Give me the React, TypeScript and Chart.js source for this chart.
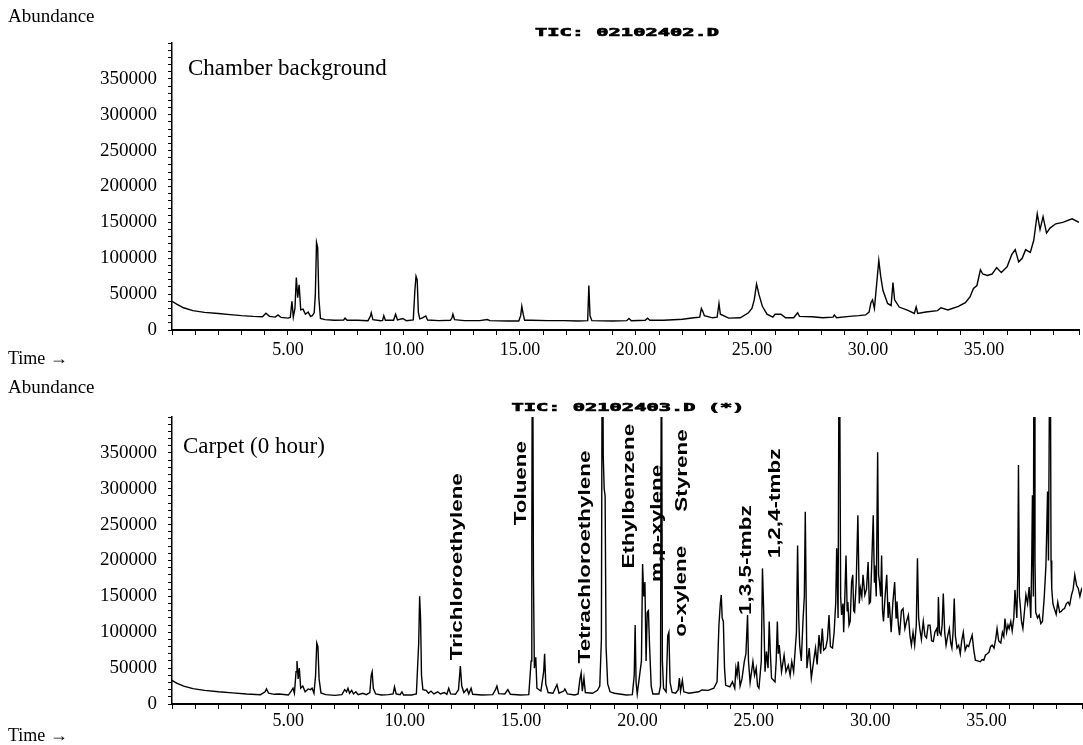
import React, { useEffect, useRef } from "react";
import { Chart, registerables } from "chart.js";

Chart.register(...registerables);

// ---------- data: chamber background (TIC 02102402.D) ----------
const bgTime = [
  0.0, 0.2, 0.5, 0.9, 1.4, 2.0, 2.5, 3.0, 3.5, 3.9, 4.05, 4.2, 4.45, 4.57, 4.7, 5.0, 5.1, 5.17, 5.23, 5.3,
  5.36, 5.42, 5.48, 5.55, 5.65, 5.75, 5.87, 5.97, 6.05, 6.13, 6.18, 6.23, 6.28, 6.33, 6.4, 6.6, 7.0, 7.4, 7.46, 7.55,
  8.0, 8.45, 8.55, 8.59, 8.66, 9.0, 9.08, 9.13, 9.2, 9.55, 9.64, 9.72, 9.95, 10.1, 10.4, 10.47, 10.52, 10.57, 10.62, 10.68,
  10.8, 10.94, 11.02, 11.5, 12.0, 12.07, 12.11, 12.18, 12.6, 13.26, 13.6, 13.7, 14.5, 14.95, 15.03, 15.08, 15.14, 15.2, 15.5, 16.2,
  16.9, 17.5, 17.92, 17.97, 18.02, 18.1, 19.0, 19.6, 19.7, 19.8, 20.4, 20.5, 20.6, 21.2, 22.0, 22.5, 22.75, 22.82, 22.88, 22.95,
  23.3, 23.5, 23.58, 23.64, 24.0, 24.5, 24.85, 25.0, 25.1, 25.2, 25.3, 25.45, 25.65, 25.9, 26.0, 26.25, 26.45, 26.8, 26.97, 27.05,
  27.6, 28.05, 28.5, 28.55, 28.65, 29.2, 29.6, 29.9, 30.05, 30.13, 30.2, 30.28, 30.38, 30.47, 30.55, 30.65, 30.85, 31.0, 31.08, 31.15,
  31.35, 31.75, 32.0, 32.08, 32.15, 32.5, 33.0, 33.15, 33.45, 33.9, 34.2, 34.4, 34.55, 34.7, 34.85, 34.95, 35.15, 35.35, 35.55, 35.75,
  36.0, 36.2, 36.35, 36.5, 36.65, 36.8, 37.0, 37.15, 37.3, 37.42, 37.55, 37.7, 37.85, 38.1, 38.4, 38.8, 39.1,
];
const bgAbund = [
  40000, 36000, 31000, 27000, 24500, 23000, 21500, 20000, 19000, 18500, 23500, 19000, 18000, 21000, 17500, 16500, 17500, 40000, 18000, 30000,
  73000, 45000, 63000, 28000, 29000, 22000, 25000, 19000, 20000, 24000, 50000, 122000, 115000, 45000, 16000, 14500, 13500, 14000, 16500, 13500,
  13500, 13000, 19000, 24000, 14500, 13000, 13500, 20000, 13500, 13500, 22000, 14000, 16000, 13000, 14000, 55000, 75000, 70000, 25000, 15500,
  17000, 19500, 14000, 13000, 13500, 17000, 22000, 14500, 13000, 13000, 14500, 13000, 12500, 12500, 20000, 33000, 22000, 13500, 13500, 13000,
  13000, 12500, 13000, 62000, 20000, 13000, 12500, 13000, 16000, 13000, 13500, 16500, 13500, 13500, 15000, 17000, 18000, 30000, 26000, 20000,
  17000, 18000, 37000, 22000, 16500, 17000, 24000, 30000, 42000, 64000, 50000, 33000, 22000, 18000, 22000, 22000, 17000, 17000, 24000, 19000,
  18500, 17000, 18000, 21000, 17000, 19000, 20000, 21000, 25000, 38000, 42000, 30000, 65000, 97000, 75000, 55000, 37000, 34000, 66000, 42000,
  32000, 27000, 23000, 32000, 23000, 25000, 27000, 31000, 28000, 33000, 38000, 46000, 58000, 62000, 84000, 78000, 76000, 78000, 87000, 80000,
  88000, 105000, 112000, 95000, 100000, 112000, 108000, 125000, 162000, 140000, 158000, 135000, 142000, 148000, 150000, 155000, 150000,
];

// ---------- data: carpet, 0 hour (TIC 02102403.D) ----------
const cpTime = [
  0.0, 0.2, 0.5, 0.9, 1.4, 2.0, 2.6, 3.2, 3.8, 4.0, 4.06, 4.15, 4.4, 4.6, 5.0, 5.12, 5.2, 5.26, 5.33, 5.37,
  5.42, 5.47, 5.53, 5.62, 5.72, 5.85, 5.95, 6.02, 6.1, 6.17, 6.22, 6.27, 6.32, 6.4, 6.6, 7.0, 7.3, 7.42, 7.5, 7.56,
  7.63, 7.72, 7.8, 7.9, 8.0, 8.2, 8.35, 8.5, 8.56, 8.6, 8.65, 8.75, 9.0, 9.3, 9.5, 9.56, 9.63, 9.8, 9.88, 9.95,
  10.3, 10.5, 10.6, 10.64, 10.68, 10.72, 10.78, 10.92, 11.02, 11.13, 11.25, 11.42, 11.53, 11.7, 11.81, 11.89, 11.97, 12.18, 12.31, 12.39,
  12.45, 12.54, 12.68, 12.75, 12.85, 12.92, 13.32, 13.78, 13.9, 13.96, 14.04, 14.3, 14.43, 14.54, 14.97, 15.33, 15.43, 15.46, 15.49, 15.53,
  15.57, 15.63, 15.68, 15.85, 15.97, 16.01, 16.06, 16.16, 16.37, 16.47, 16.54, 16.63, 16.83, 16.88, 16.99, 17.3, 17.45, 17.53, 17.58, 17.63,
  17.7, 17.76, 18.07, 18.28, 18.38, 18.45, 18.49, 18.53, 18.57, 18.61, 18.65, 18.72, 18.82, 19.01, 19.52, 19.78, 19.86, 19.9, 19.94, 19.99,
  20.17, 20.22, 20.27, 20.32, 20.37, 20.42, 20.47, 20.52, 20.59, 20.66, 20.92, 20.99, 21.03, 21.07, 21.12, 21.23, 21.3, 21.35, 21.4, 21.49,
  21.64, 21.75, 21.8, 21.85, 21.93, 21.99, 22.21, 22.63, 22.77, 23.04, 23.28, 23.42, 23.5, 23.56, 23.6, 23.64, 23.69, 23.74, 23.79, 23.97,
  24.08, 24.18, 24.23, 24.28, 24.33, 24.41, 24.49, 24.59, 24.66, 24.73, 24.77, 24.84, 24.96, 25.03, 25.1, 25.16, 25.22, 25.32, 25.37, 25.42,
  25.48, 25.54, 25.61, 25.66, 25.71, 25.76, 25.91, 25.96, 26.01, 26.05, 26.09, 26.19, 26.3, 26.38, 26.48, 26.56, 26.63, 26.71, 26.83, 26.88,
  26.93, 26.97, 27.04, 27.11, 27.17, 27.21, 27.28, 27.38, 27.47, 27.57, 27.65, 27.72, 27.8, 27.87, 27.94, 28.0, 28.09, 28.16, 28.23, 28.29,
  28.38, 28.45, 28.52, 28.56, 28.62, 28.67, 28.73, 28.77, 28.83, 28.86, 28.91, 28.96, 29.01, 29.04, 29.09, 29.14, 29.2, 29.25, 29.29, 29.33,
  29.4, 29.47, 29.53, 29.58, 29.64, 29.69, 29.77, 29.84, 29.91, 29.96, 30.01, 30.07, 30.13, 30.18, 30.2, 30.26, 30.32, 30.36, 30.4, 30.45,
  30.49, 30.53, 30.57, 30.64, 30.71, 30.77, 30.82, 30.9, 30.97, 31.05, 31.11, 31.15, 31.21, 31.26, 31.34, 31.41, 31.49, 31.56, 31.64, 31.71,
  31.77, 31.84, 31.91, 31.98, 32.03, 32.08, 32.13, 32.2, 32.28, 32.35, 32.42, 32.49, 32.57, 32.64, 32.71, 32.78, 32.86, 32.9, 32.93, 32.98,
  33.04, 33.09, 33.14, 33.2, 33.26, 33.33, 33.4, 33.46, 33.51, 33.56, 33.61, 33.66, 33.73, 33.8, 33.87, 33.93, 34.0, 34.08, 34.16, 34.23,
  34.3, 34.38, 34.45, 34.52, 34.62, 34.73, 34.81, 34.88, 34.95, 35.03, 35.1, 35.17, 35.24, 35.32, 35.39, 35.45, 35.52, 35.61, 35.68, 35.74,
  35.79, 35.86, 35.92, 35.97, 36.04, 36.1, 36.17, 36.22, 36.3, 36.34, 36.37, 36.41, 36.44, 36.5, 36.56, 36.63, 36.69, 36.76, 36.83, 36.9,
  36.94, 36.97, 37.01, 37.04, 37.08, 37.11, 37.19, 37.26, 37.33, 37.4, 37.48, 37.55, 37.59, 37.62, 37.66, 37.73, 37.77, 37.8, 37.85, 37.91,
  37.99, 38.06, 38.14, 38.21, 38.28, 38.35, 38.43, 38.5, 38.57, 38.65, 38.72, 38.79, 38.87, 38.94, 39.01, 39.08, 39.14,
];
const cpAbund = [
  33000, 29000, 25000, 21500, 19000, 17000, 15500, 14000, 13000, 17000, 21000, 15000, 13500, 14000, 12500, 18000, 22000, 15000, 45000, 60000,
  35000, 50000, 22000, 25000, 17000, 21000, 20000, 22000, 15000, 40000, 85000, 80000, 35000, 15500, 13000, 12000, 13000, 20000, 17000, 22000,
  15000, 19000, 14000, 17000, 13000, 15000, 13000, 16000, 40000, 45000, 22000, 14000, 12500, 13000, 14000, 24000, 14000, 13000, 17000, 12500,
  12500, 14000, 85000, 150000, 120000, 40000, 20000, 19000, 15000, 18000, 14000, 17000, 14000, 16000, 13500, 22000, 14000, 13500, 20000, 53000,
  25000, 16000, 21000, 14000, 22000, 13500, 12500, 13000, 20000, 25000, 14500, 14000, 20000, 13500, 12500, 13000, 60000, 230000, 600000, 180000,
  50000, 65000, 22000, 18000, 45000, 70000, 28000, 16000, 15000, 22000, 27000, 15000, 18000, 21000, 14000, 12500, 14000, 35000, 43000, 18000,
  36000, 16000, 15000, 19000, 25000, 90000, 600000, 345000, 300000, 290000, 80000, 28000, 17000, 15000, 12500, 13000, 40000, 110000, 30000, 14000,
  60000, 195000, 150000, 170000, 60000, 128000, 130000, 80000, 25000, 14000, 14000, 25000, 600000, 60000, 22000, 17000, 95000, 100000, 30000, 16000,
  15000, 20000, 36000, 18000, 33000, 17000, 15000, 17000, 19500, 19000, 22000, 31000, 110000, 140000, 152000, 120000, 115000, 50000, 26000, 24000,
  31000, 22000, 50000, 40000, 59000, 25000, 35000, 59000, 70000, 124000, 60000, 30000, 59000, 40000, 50000, 25000, 22000, 60000, 189000, 133000,
  45000, 73000, 50000, 115000, 70000, 36000, 31000, 60000, 115000, 70000, 82000, 45000, 68000, 45000, 54000, 40000, 59000, 45000, 100000, 221000,
  120000, 82000, 60000, 115000, 150000, 268000, 50000, 78000, 36000, 60000, 78000, 55000, 96000, 70000, 105000, 75000, 78000, 90000, 124000, 80000,
  78000, 100000, 142000, 217000, 120000, 600000, 150000, 124000, 140000, 100000, 150000, 207000, 130000, 142000, 110000, 115000, 170000, 180000, 130000, 128000,
  170000, 263000, 140000, 161000, 150000, 180000, 152000, 160000, 198000, 140000, 142000, 200000, 263000, 170000, 193000, 150000, 351000, 180000, 170000, 150000,
  207000, 130000, 115000, 150000, 180000, 120000, 142000, 100000, 140000, 170000, 120000, 143000, 110000, 96000, 130000, 133000, 105000, 115000, 124000, 95000,
  82000, 100000, 82000, 110000, 203000, 120000, 105000, 90000, 115000, 95000, 92000, 110000, 110000, 88000, 87000, 100000, 105000, 95000, 149000, 100000,
  96000, 110000, 154000, 100000, 82000, 95000, 105000, 85000, 78000, 100000, 147000, 95000, 78000, 82000, 70000, 88000, 100000, 75000, 82000, 80000,
  88000, 96000, 75000, 61000, 60000, 59000, 62000, 61000, 68000, 70000, 72000, 80000, 82000, 78000, 90000, 105000, 88000, 85000, 100000, 94000,
  119000, 100000, 110000, 105000, 115000, 102000, 120000, 159000, 120000, 180000, 333000, 150000, 140000, 115000, 105000, 130000, 152000, 140000, 163000, 120000,
  200000, 291000, 150000, 600000, 200000, 128000, 120000, 124000, 112000, 115000, 150000, 193000, 250000, 296000, 200000, 600000, 200000, 161000, 140000, 133000,
  125000, 142000, 128000, 129000, 132000, 133000, 140000, 142000, 138000, 152000, 160000, 180000, 165000, 161000, 150000, 160000, 156000,
];

// ---------- axes ----------
const xTickLabels = [5, 10, 15, 20, 25, 30, 35];
const yTickLabels = [0, 50000, 100000, 150000, 200000, 250000, 300000, 350000];
const X_MIN = 0;
const X_MAX = 39.1;
const Y_MAX = 400000;

// ---------- compound labels (carpet panel) ----------
const peakNames = [
  "Trichloroethylene", "Toluene", "Tetrachloroethylene", "Ethylbenzene", "m,p-xylene",
  "Styrene", "o-xylene", "1,3,5-tmbz", "1,2,4-tmbz",
];
const peakLabelTimes = [12.28, 15.03, 17.74, 19.67, 20.84, 21.94, 21.88, 24.69, 25.94];
const peakLabelBase = [61000, 249000, 56600, 189000, 170000, 268000, 93700, 124000, 203000];

type PanelText = {
  abundanceY: number;
  timeY: number;
  sample: string;
  sampleX: number;
  sampleY: number;
  tic: string;
  ticX: number;
  ticY: number;
  labels: boolean;
};

const textPlugin = {
  id: "panelTexts",
  afterDraw(chart: any, _args: any, o: PanelText) {
    const ctx = chart.ctx as CanvasRenderingContext2D;
    ctx.save();
    ctx.fillStyle = "#000";
    ctx.strokeStyle = "#000";
    ctx.textAlign = "left";
    ctx.textBaseline = "alphabetic";
    ctx.font = '19px "Liberation Serif"';
    ctx.fillText("Abundance", 8, o.abundanceY);
    ctx.font = '18px "Liberation Serif"';
    ctx.fillText("Time \u2192", 8, o.timeY);
    ctx.font = '23px "Liberation Serif"';
    ctx.fillText(o.sample, o.sampleX, o.sampleY);
    ctx.save();
    ctx.font = 'bold 11px "DejaVu Sans Mono"';
    ctx.translate(o.ticX, o.ticY);
    ctx.scale(1.85, 1);
    ctx.textAlign = "center";
    ctx.textBaseline = "middle";
    ctx.lineWidth = 0.7;
    ctx.fillText(o.tic, 0, 0);
    ctx.strokeText(o.tic, 0, 0);
    ctx.restore();
    if (o.labels) {
      const xs = chart.scales.x;
      const ys = chart.scales.y;
      ctx.font = 'bold 17px "Liberation Sans"';
      peakNames.forEach((name, i) => {
        const px = xs.getPixelForValue(peakLabelTimes[i]);
        const py = ys.getPixelForValue(peakLabelBase[i]);
        ctx.save();
        ctx.translate(px, py);
        ctx.rotate(-Math.PI / 2);
        ctx.scale(1.32, 1);
        ctx.textAlign = "left";
        ctx.textBaseline = "middle";
        ctx.fillText(name, 0, 0);
        ctx.restore();
      });
    }
    ctx.restore();
  },
};

function buildConfig(times: number[], values: number[], topPad: number, xAxisH: number, xPad: number, text: PanelText): any {
  return {
    type: "line",
    data: {
      datasets: [
        {
          data: times.map((t, i) => ({ x: t, y: values[i] })),
          borderColor: "#000",
          borderWidth: 1.4,
          pointRadius: 0,
          tension: 0,
          fill: false,
        },
      ],
    },
    options: {
      animation: false,
      responsive: false,
      maintainAspectRatio: false,
      devicePixelRatio: 1,
      layout: { padding: { top: topPad, left: 0, right: 0, bottom: 0 } },
      plugins: {
        legend: { display: false },
        tooltip: { enabled: false },
        title: { display: false },
        panelTexts: text,
      },
      scales: {
        x: {
          type: "linear",
          min: X_MIN,
          max: X_MAX,
          border: { display: true, color: "#000", width: 2 },
          grid: { display: true, drawOnChartArea: false, drawTicks: true, tickLength: 5, tickColor: "#000", tickWidth: 1, color: "#000" },
          ticks: {
            stepSize: 1,
            autoSkip: false,
            maxRotation: 0,
            minRotation: 0,
            padding: xPad,
            color: "#000",
            font: { family: "Liberation Serif", size: 18 },
            callback: (v: number) => (xTickLabels.includes(v) ? v.toFixed(2) : ""),
          },
          afterFit: (s: any) => {
            s.height = xAxisH;
          },
        },
        y: {
          type: "linear",
          min: 0,
          max: Y_MAX,
          border: { display: true, color: "#000", width: 1.5 },
          grid: { display: true, drawOnChartArea: false, drawTicks: true, tickLength: 4, tickColor: "#000", tickWidth: 1, color: "#000" },
          ticks: {
            stepSize: 10000,
            autoSkip: false,
            padding: 11,
            color: "#000",
            font: { family: "Liberation Serif", size: 19 },
            callback: (v: number) => (yTickLabels.includes(v) ? String(v) : ""),
          },
          afterFit: (s: any) => {
            s.width = 172;
          },
        },
      },
    },
    plugins: [textPlugin],
  };
}

function Panel(props: {
  top: number;
  height: number;
  times: number[];
  values: number[];
  topPad: number;
  xAxisH: number;
  xPad: number;
  text: PanelText;
}) {
  const ref = useRef<HTMLCanvasElement | null>(null);
  useEffect(() => {
    if (!ref.current) return;
    const chart = new Chart(
      ref.current,
      buildConfig(props.times, props.values, props.topPad, props.xAxisH, props.xPad, props.text)
    );
    return () => chart.destroy();
  }, []);
  return (
    <canvas
      ref={ref}
      width={1083}
      height={props.height}
      style={{ position: "absolute", left: 0, top: props.top, width: 1083, height: props.height, display: "block" }}
    />
  );
}

export default function App() {
  return (
    <div style={{ position: "absolute", left: 0, top: 0, width: 1083, height: 745, background: "#fff", overflow: "hidden" }}>
      <Panel
        top={0}
        height={372}
        times={bgTime}
        values={bgAbund}
        topPad={43}
        xAxisH={42}
        xPad={4}
        text={{
          abundanceY: 22,
          timeY: 364,
          sample: "Chamber background",
          sampleX: 188,
          sampleY: 75,
          tic: "TIC: 02102402.D",
          ticX: 627,
          ticY: 33,
          labels: false,
        }}
      />
      <Panel
        top={372}
        height={373}
        times={cpTime}
        values={cpAbund}
        topPad={45}
        xAxisH={41}
        xPad={1}
        text={{
          abundanceY: 21,
          timeY: 369,
          sample: "Carpet (0 hour)",
          sampleX: 183,
          sampleY: 81,
          tic: "TIC: 02102403.D (*)",
          ticX: 628,
          ticY: 36,
          labels: true,
        }}
      />
    </div>
  );
}
